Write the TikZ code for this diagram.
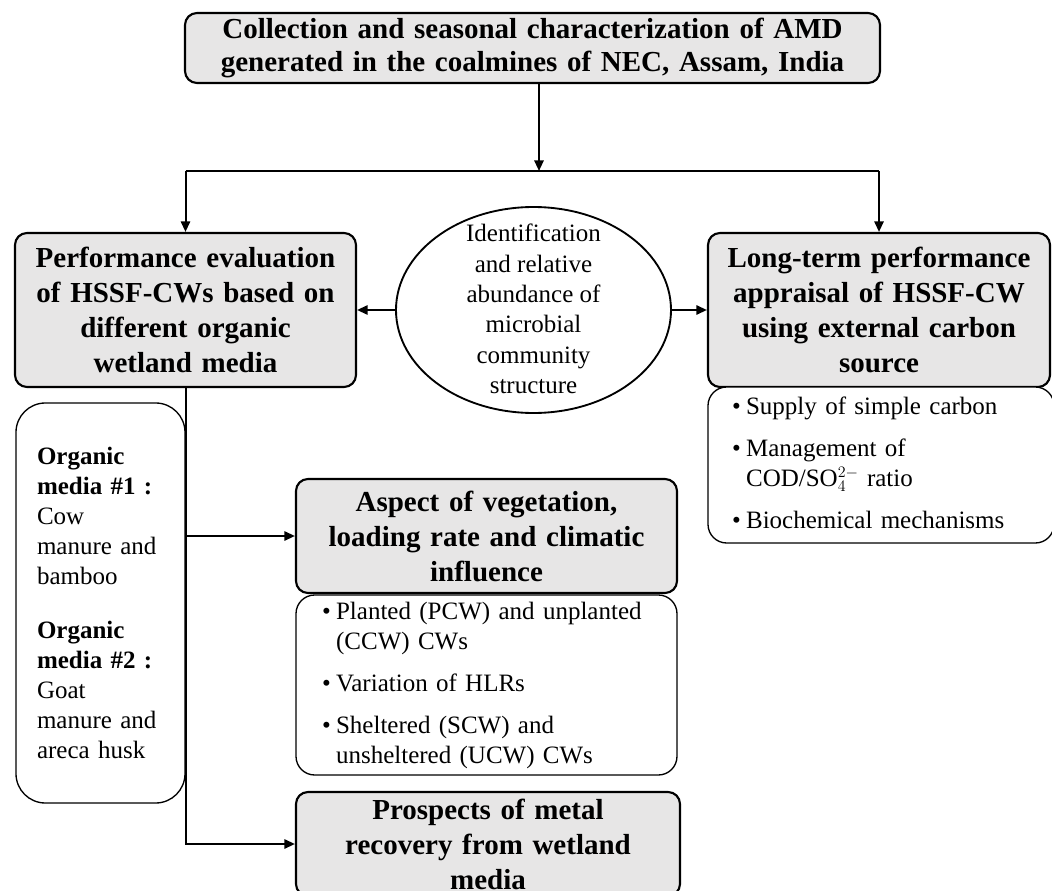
\documentclass[tikz,border=0pt]{standalone}
\usepackage{fontspec}
\setmainfont{Liberation Serif}
\usetikzlibrary{arrows.meta,shapes.geometric}
\definecolor{boxgray}{RGB}{231,230,230}
\begin{document}
\begin{tikzpicture}[x=0.75pt,y=-0.75pt,
 gbox/.style={draw=black, line width=1.6pt, fill=boxgray, rounded corners=9pt, inner sep=0pt, align=center, font=\fontsize{21.75}{26.25}\selectfont\bfseries},
 wbox/.style={draw=black, line width=1pt, fill=white, rounded corners=14pt, inner ysep=0pt, align=left, font=\fontsize{18.75}{22.5}\selectfont},
 arr/.style={line width=1.5pt, -{Triangle[length=8pt,width=7pt]}},
 conn/.style={line width=1.5pt}]
\useasboundingbox (0,0) rectangle (1052,891);

\node[gbox, minimum width=521.25pt, minimum height=52.5pt, text width=515pt, font=\fontsize{21.75}{24.75}\selectfont\bfseries] (top) at (532.5,48) {Collection and seasonal characterization of AMD\\ generated in the coalmines of NEC, Assam, India};

\node[gbox, minimum width=255.75pt, minimum height=115.5pt, text width=250pt] (left) at (185.5,310) {Performance evaluation\\ of HSSF-CWs based on\\ different organic\\ wetland media};

\node[draw, ellipse, line width=1.4pt, minimum width=206.25pt, minimum height=154.5pt, inner sep=0pt, font=\fontsize{18.75}{22.8}\selectfont] (ell) at (533.5,310) {\raisebox{-11pt}{\smash{\begin{tabular}{@{}c@{}}Identification\\ and relative\\ abundance of\\ microbial\\ community\\ structure\end{tabular}}}};

\node[gbox, minimum width=256.5pt, minimum height=115.5pt, text width=250pt] (right) at (879,310) {Long-term performance\\ appraisal of HSSF-CW\\ using external carbon\\ source};

\node[wbox, minimum width=259.5pt, minimum height=117pt, text width=223.5pt, inner xsep=18pt] (rlist) at (881,465) {\begin{tabular}{@{}l@{\hspace{4pt}}l@{}} \textbullet & Supply of simple carbon\\[9pt] \textbullet & Management of\\ & COD/SO$_{4}^{2-}$ ratio\\[9pt] \textbullet & Biochemical mechanisms \end{tabular}};

\node[wbox, minimum width=126.75pt, minimum height=300pt, text width=95.25pt, inner xsep=15.75pt, rounded corners=22pt] (org) at (100.5,603) {\textbf{Organic}\\ \textbf{media \#1 :}\\ Cow\\ manure and\\ bamboo\\[18pt] \textbf{Organic}\\ \textbf{media \#2 :}\\ Goat\\ manure and\\ areca husk};

\node[gbox, minimum width=285.75pt, minimum height=85.5pt, text width=280pt] (aspect) at (486.5,536) {Aspect of vegetation,\\ loading rate and climatic\\ influence};

\node[wbox, minimum width=285.75pt, minimum height=135pt, text width=246.75pt, inner xsep=19.5pt] (alist) at (486.5,685) {\begin{tabular}{@{}l@{\hspace{4pt}}l@{}} \textbullet & Planted (PCW) and unplanted\\ & (CCW) CWs\\[9pt] \textbullet & Variation of HLRs\\[9pt] \textbullet & Sheltered (SCW) and\\ & unsheltered (UCW) CWs\end{tabular}};

\node[gbox, minimum width=288pt, minimum height=78pt, text width=282pt] (pros) at (488,844) {Prospects of metal\\ recovery from wetland\\ media};

\coordinate (j) at (539,171);
\draw[arr] (top.south -| j) -- (j);
\draw[conn] (left.north |- j) -- (right.north |- j);
\draw[arr] (left.north |- j) -- (left.north);
\draw[arr] (right.north |- j) -- (right.north);
\draw[arr] (ell.west) -- (ell.west -| left.east);
\draw[arr] (ell.east) -- (ell.east -| right.west);
\draw[arr] (left.south) |- (aspect.west);
\draw[arr] (left.south) |- (pros.west);
\end{tikzpicture}
\end{document}
